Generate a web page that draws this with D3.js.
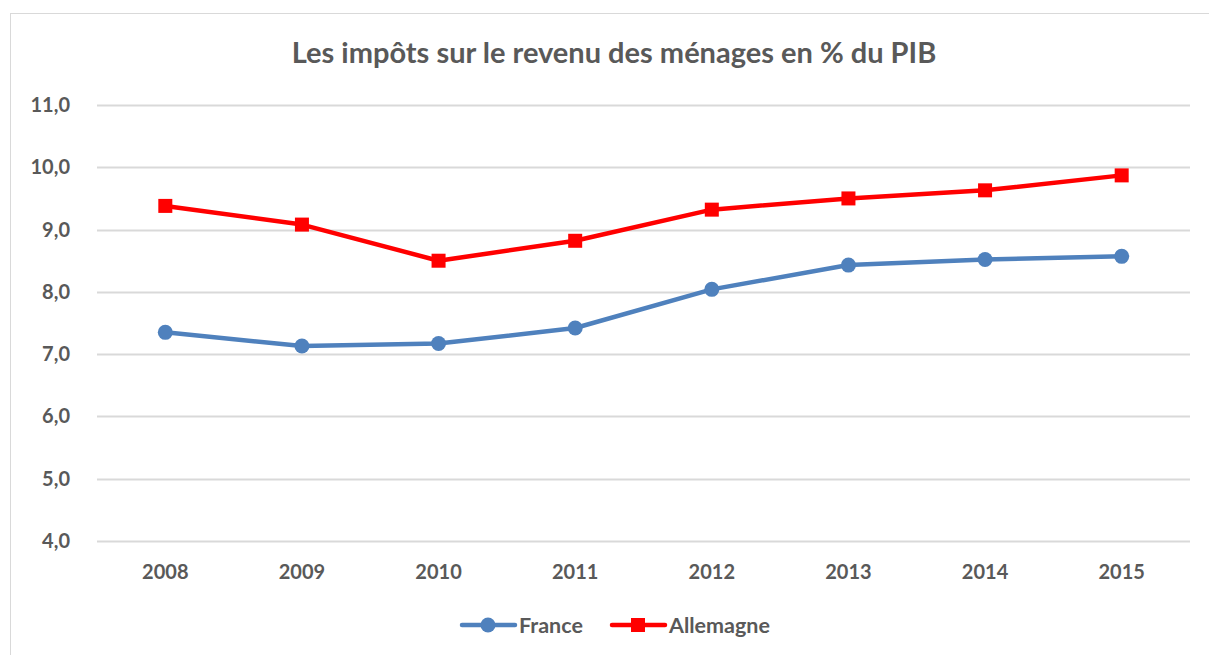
<!DOCTYPE html>
<html>
<head>
<meta charset="utf-8">
<script src="https://cdn.jsdelivr.net/npm/d3@7"></script>
<style>
  body { margin: 0; background: #fff; }
  text { font-family: Lato, "Open Sans", sans-serif; font-weight: bold; fill: #595959; }
</style>
</head>
<body>
<svg id="chart" width="1209" height="655"></svg>
<script>
// chart data
const years = ["2008", "2009", "2010", "2011", "2012", "2013", "2014", "2015"];
const france = [7.35, 7.13, 7.17, 7.42, 8.04, 8.43, 8.52, 8.57];
const allemagne = [9.38, 9.08, 8.50, 8.82, 9.32, 9.50, 9.63, 9.87];
const yTicks = [4, 5, 6, 7, 8, 9, 10, 11];

const svg = d3.select("#chart");

// outer frame (only left and top edges visible in the crop)
svg.append("rect")
    .attr("x", 10.5).attr("y", 13.5)
    .attr("width", 1240).attr("height", 700)
    .style("fill", "none").style("stroke", "#d9d9d9").style("stroke-width", 1);

const margin = {left: 97, right: 1190, top: 105, bottom: 541};

const x = d3.scaleBand().domain(years).range([margin.left, margin.right]);
const y = d3.scaleLinear().domain([4, 11]).range([margin.bottom, margin.top]);

// gridlines
svg.append("g")
    .selectAll("line")
    .data(yTicks)
    .enter().append("line")
    .attr("x1", margin.left).attr("x2", margin.right)
    .attr("y1", d => Math.round(y(d)) + 0.5)
    .attr("y2", d => Math.round(y(d)) + 0.5)
    .style("stroke", "#d9d9d9").style("stroke-width", 2);

// y labels
const fmt = d => d.toFixed(1).replace(".", ",");
svg.append("g")
    .selectAll("text")
    .data(yTicks)
    .enter().append("text")
    .attr("x", 70).attr("y", d => y(d))
    .attr("dy", "0.35em")
    .attr("text-anchor", "end")
    .style("font-size", "20px")
    .text(fmt);

// x labels
svg.append("g")
    .selectAll("text")
    .data(years)
    .enter().append("text")
    .attr("x", d => x(d) + x.bandwidth() / 2)
    .attr("y", 579)
    .attr("text-anchor", "middle")
    .style("font-size", "20px")
    .text(d => d);

// title
svg.append("text")
    .attr("x", 614).attr("y", 63)
    .attr("text-anchor", "middle")
    .style("font-size", "29px")
    .text("Les impôts sur le revenu des ménages en % du PIB");

const line = d3.line()
    .x((d, i) => x(years[i]) + x.bandwidth() / 2)
    .y(d => y(d));

// France series
svg.append("path")
    .datum(france)
    .attr("d", line)
    .style("fill", "none").style("stroke", "#4f81bd").style("stroke-width", 4.5)
    .style("stroke-linejoin", "round");
svg.append("g")
    .selectAll("circle")
    .data(france)
    .enter().append("circle")
    .attr("cx", (d, i) => x(years[i]) + x.bandwidth() / 2)
    .attr("cy", d => y(d))
    .attr("r", 7.5)
    .style("fill", "#4f81bd");

// Allemagne series
svg.append("path")
    .datum(allemagne)
    .attr("d", line)
    .style("fill", "none").style("stroke", "#ff0000").style("stroke-width", 4.5)
    .style("stroke-linejoin", "round");
svg.append("g")
    .selectAll("rect")
    .data(allemagne)
    .enter().append("rect")
    .attr("x", (d, i) => x(years[i]) + x.bandwidth() / 2 - 7)
    .attr("y", d => y(d) - 7)
    .attr("width", 14).attr("height", 14)
    .style("fill", "#ff0000");

// legend
const legend = svg.append("g");
legend.append("line")
    .attr("x1", 462).attr("x2", 515).attr("y1", 625).attr("y2", 625)
    .style("stroke", "#4f81bd").style("stroke-width", 4.5).style("stroke-linecap", "round");
legend.append("circle").attr("cx", 488).attr("cy", 625).attr("r", 7.5).style("fill", "#4f81bd");
legend.append("text").attr("x", 519).attr("y", 625).attr("dy", "0.35em")
    .style("font-size", "21.5px").text("France");

legend.append("line")
    .attr("x1", 612).attr("x2", 665).attr("y1", 625).attr("y2", 625)
    .style("stroke", "#ff0000").style("stroke-width", 4.5).style("stroke-linecap", "round");
legend.append("rect").attr("x", 631).attr("y", 618).attr("width", 14).attr("height", 14).style("fill", "#ff0000");
legend.append("text").attr("x", 669).attr("y", 625).attr("dy", "0.35em")
    .style("font-size", "21.5px").text("Allemagne");
</script>
</body>
</html>
